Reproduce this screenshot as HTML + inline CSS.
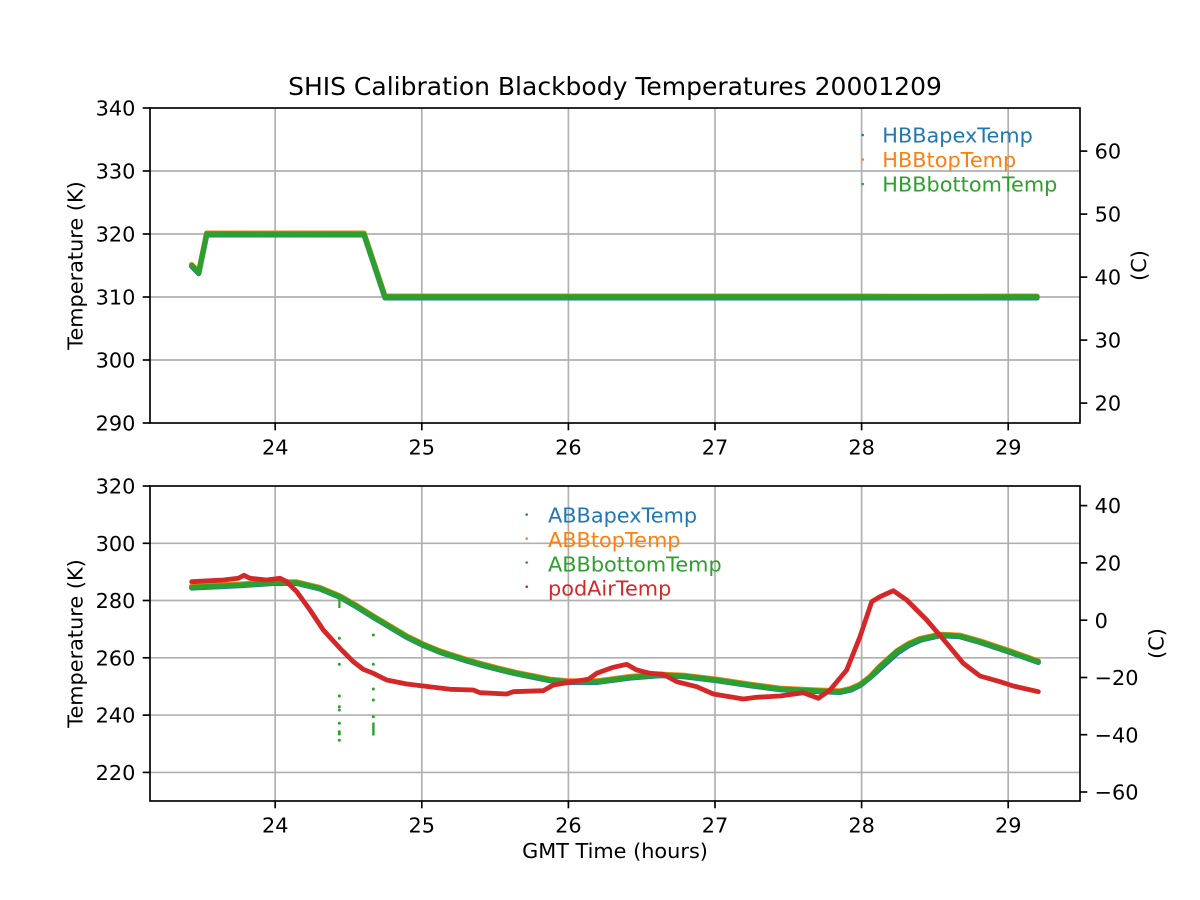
<!DOCTYPE html>
<html><head><meta charset="utf-8"><style>
html,body{margin:0;padding:0;background:#fff;}
svg{display:block;}
text{font-family:"DejaVu Sans","Liberation Sans",sans-serif;fill:#000;}
</style></head><body>
<svg width="1200" height="900" viewBox="0 0 1200 900" xmlns="http://www.w3.org/2000/svg">
<rect x="0" y="0" width="1200" height="900" fill="#fff"/>

<!-- ===== TOP AXES ===== -->
<g stroke="#b0b0b0" stroke-width="1.67" fill="none">
  <line x1="275.2" y1="108" x2="275.2" y2="423"/>
  <line x1="421.8" y1="108" x2="421.8" y2="423"/>
  <line x1="568.4" y1="108" x2="568.4" y2="423"/>
  <line x1="715" y1="108" x2="715" y2="423"/>
  <line x1="861.6" y1="108" x2="861.6" y2="423"/>
  <line x1="1008.2" y1="108" x2="1008.2" y2="423"/>
  <line x1="150" y1="360" x2="1080" y2="360"/>
  <line x1="150" y1="297" x2="1080" y2="297"/>
  <line x1="150" y1="234" x2="1080" y2="234"/>
  <line x1="150" y1="171" x2="1080" y2="171"/>
</g>
<g fill="none" stroke-width="5.4" stroke-linejoin="round" stroke-linecap="round">
  <polyline stroke="#1f77b4" points="191.7,266.3 198.7,273.5 206.7,234.8 364,234.8 385,297.8 1037,297.8"/>
  <polyline stroke="#ff7f0e" points="191.7,264.7 198.7,271.9 206.7,233.2 364,233.2 385,296.2 860,296.2 935,296.4 1037,296.2"/>
  <polyline stroke="#2ca02c" points="191.7,265.5 198.7,272.7 206.7,234 364,234.2 385,297 1037,297"/>
</g>
<!-- top legend -->
<circle cx="862.7" cy="135" r="1.3" fill="#1f77b4"/>
<circle cx="862.7" cy="159.5" r="1.3" fill="#ff7f0e"/>
<circle cx="862.7" cy="184" r="1.3" fill="#2ca02c"/>
<text x="882.3" y="142.5" font-size="20.83" style="fill:#1f77b4">HBBapexTemp</text>
<text x="882.3" y="167" font-size="20.83" style="fill:#ff7f0e">HBBtopTemp</text>
<text x="882.3" y="191.5" font-size="20.83" style="fill:#2ca02c">HBBbottomTemp</text>
<!-- top spines -->
<rect x="150" y="108" width="930" height="315" fill="none" stroke="#000" stroke-width="1.67"/>
<!-- top ticks -->
<g stroke="#000" stroke-width="1.67">
  <line x1="142.7" y1="423" x2="150" y2="423"/>
  <line x1="142.7" y1="360" x2="150" y2="360"/>
  <line x1="142.7" y1="297" x2="150" y2="297"/>
  <line x1="142.7" y1="234" x2="150" y2="234"/>
  <line x1="142.7" y1="171" x2="150" y2="171"/>
  <line x1="142.7" y1="108" x2="150" y2="108"/>
  <line x1="1080" y1="403.1" x2="1087.3" y2="403.1"/>
  <line x1="1080" y1="340.1" x2="1087.3" y2="340.1"/>
  <line x1="1080" y1="277.1" x2="1087.3" y2="277.1"/>
  <line x1="1080" y1="214.1" x2="1087.3" y2="214.1"/>
  <line x1="1080" y1="151.1" x2="1087.3" y2="151.1"/>
  <line x1="275.2" y1="423" x2="275.2" y2="430.3"/>
  <line x1="421.8" y1="423" x2="421.8" y2="430.3"/>
  <line x1="568.4" y1="423" x2="568.4" y2="430.3"/>
  <line x1="715" y1="423" x2="715" y2="430.3"/>
  <line x1="861.6" y1="423" x2="861.6" y2="430.3"/>
  <line x1="1008.2" y1="423" x2="1008.2" y2="430.3"/>
</g>
<g font-size="20.83" text-anchor="end">
  <text x="135.4" y="430.6">290</text>
  <text x="135.4" y="367.6">300</text>
  <text x="135.4" y="304.6">310</text>
  <text x="135.4" y="241.6">320</text>
  <text x="135.4" y="178.6">330</text>
  <text x="135.4" y="115.6">340</text>
</g>
<g font-size="20.83" text-anchor="start">
  <text x="1094.6" y="410.7">20</text>
  <text x="1094.6" y="347.7">30</text>
  <text x="1094.6" y="284.7">40</text>
  <text x="1094.6" y="221.7">50</text>
  <text x="1094.6" y="158.7">60</text>
</g>
<g font-size="20.83" text-anchor="middle">
  <text x="275.2" y="454.3">24</text>
  <text x="421.8" y="454.3">25</text>
  <text x="568.4" y="454.3">26</text>
  <text x="715" y="454.3">27</text>
  <text x="861.6" y="454.3">28</text>
  <text x="1008.2" y="454.3">29</text>
</g>
<text x="615" y="95" font-size="25" text-anchor="middle">SHIS Calibration Blackbody Temperatures 20001209</text>
<text transform="translate(82.5,265.5) rotate(-90)" font-size="20.83" text-anchor="middle">Temperature (K)</text>
<text transform="translate(1146,265.5) rotate(-90)" font-size="20.83" text-anchor="middle">(C)</text>

<!-- ===== BOTTOM AXES ===== -->
<g stroke="#b0b0b0" stroke-width="1.67" fill="none">
  <line x1="275.2" y1="486" x2="275.2" y2="801"/>
  <line x1="421.8" y1="486" x2="421.8" y2="801"/>
  <line x1="568.4" y1="486" x2="568.4" y2="801"/>
  <line x1="715" y1="486" x2="715" y2="801"/>
  <line x1="861.6" y1="486" x2="861.6" y2="801"/>
  <line x1="1008.2" y1="486" x2="1008.2" y2="801"/>
  <line x1="150" y1="772.4" x2="1080" y2="772.4"/>
  <line x1="150" y1="715.1" x2="1080" y2="715.1"/>
  <line x1="150" y1="657.8" x2="1080" y2="657.8"/>
  <line x1="150" y1="600.5" x2="1080" y2="600.5"/>
  <line x1="150" y1="543.3" x2="1080" y2="543.3"/>
</g>
<g fill="none" stroke-width="5.2" stroke-linejoin="round" stroke-linecap="round">
  <polyline stroke="#1f77b4" points="191.7,588 240,585.7 273.3,583.4 296.7,583.4 320,589 340,597.4 356.7,607 373.3,617.4 390,627.4 406.7,637.4 423.3,645.5 440,652.4 450,655.7 466.7,661 483.3,665.7 500,670 516.7,674 533.3,677.3 550,680.7 568.3,682.4 596.7,682.4 630,678 660,675.7 683.3,676.7 716.7,680.7 750,685.7 780,689.7 813.3,691.4 840,692.4 851,690 861,685 871,677 881,667.8 897.7,652.8 909,645.5 921,640 940,635.7 960,636.7 980,642.4 1010,652.4 1038.3,662.4"/>
  <polyline stroke="#ff7f0e" points="191.7,586 240,584.1 273.3,581.9 296.7,581.9 320,587.5 340,595.9 356.7,605.5 373.3,615.9 390,625.9 406.7,635.9 423.3,644 440,650.9 450,654.2 466.7,659.5 483.3,664.2 500,668.5 516.7,672.5 533.3,675.8 550,679.2 568.3,680.9 596.7,680.9 630,676.5 660,674.2 683.3,675.2 716.7,679.2 750,684.2 780,688.2 813.3,689.9 840,690.9 850,688.6 860,684.2 870,676.5 880,665.9 896.7,650.9 908,643.8 920,638.5 940,634.2 960,635.2 980,640.9 1010,650.9 1038.3,660.9"/>
  <polyline stroke="#2ca02c" points="191.7,587.3 240,585 273.3,582.7 296.7,582.7 320,588.3 340,596.7 356.7,606.3 373.3,616.7 390,626.7 406.7,636.7 423.3,644.8 440,651.7 450,655 466.7,660.3 483.3,665 500,669.3 516.7,673.3 533.3,676.6 550,680 568.3,681.7 596.7,681.7 630,677.3 660,675 683.3,676 716.7,680 750,685 780,689 813.3,690.7 840,691.7 850,689.4 860,685 870,677.3 880,666.7 896.7,651.7 908,644.6 920,639.3 940,635 960,636 980,641.7 1010,651.7 1038.3,661.7"/>
</g>
<!-- green outliers -->
<g fill="#2ca02c">
  <rect x="338.3" y="597" width="2.2" height="11"/>
  <circle cx="339.3" cy="638.3" r="1.5"/>
  <circle cx="339.3" cy="664.3" r="1.5"/>
  <circle cx="339.3" cy="696" r="1.5"/>
  <circle cx="339.3" cy="706.7" r="1.5"/>
  <circle cx="339.3" cy="710" r="1.5"/>
  <circle cx="339.3" cy="723.3" r="1.5"/>
  <circle cx="339.3" cy="731.7" r="1.5"/>
  <circle cx="339.3" cy="734" r="1.5"/>
  <circle cx="339.3" cy="740.3" r="1.5"/>
  <circle cx="373.3" cy="635" r="1.5"/>
  <circle cx="373.3" cy="664.3" r="1.5"/>
  <circle cx="373.3" cy="689" r="1.5"/>
  <circle cx="373.3" cy="700" r="1.5"/>
  <circle cx="373.3" cy="716.7" r="1.5"/>
  <rect x="372.2" y="722.5" width="2.4" height="13"/>
</g>
<polyline fill="none" stroke="#d62728" stroke-width="4.8" stroke-linejoin="round" stroke-linecap="round" points="191.7,581.7 223.3,580 238.3,578.3 244,575.3 250,578.3 266.7,580 280,578.3 286.7,581.7 296.7,591.7 310,610 323.3,630 340,648.3 353.3,661.7 363.3,669.3 373.3,673.3 386.7,680 406.7,684 423.3,686 450,689.3 473.3,690 480,692.7 506.7,694 513.3,691.7 543.3,690.7 553.3,685 566.7,682.7 588.3,679.3 596.7,673.3 613.3,667.3 626.7,664.3 636.7,670 650,673.3 663.3,674.3 676.7,681.7 696.7,686.7 713.3,694 743.3,699 756.7,697.3 780,696 803.3,692.7 818.3,698.3 830,690 846.7,670 860,636.7 871.7,601.7 880,596.7 893.3,590.7 906.7,600 926.7,620 946.7,643.3 963.3,663.3 980,676 1000,681.7 1013.3,686 1038.3,691.7"/>
<!-- bottom legend -->
<circle cx="526.7" cy="514.5" r="1.3" fill="#1f77b4"/>
<circle cx="526.7" cy="538.5" r="1.3" fill="#ff7f0e"/>
<circle cx="526.7" cy="562.5" r="1.3" fill="#2ca02c"/>
<circle cx="526.7" cy="586.7" r="1.3" fill="#d62728"/>
<text x="548" y="522.5" font-size="20.83" style="fill:#1f77b4">ABBapexTemp</text>
<text x="548" y="546.9" font-size="20.83" style="fill:#ff7f0e">ABBtopTemp</text>
<text x="548" y="571.3" font-size="20.83" style="fill:#2ca02c">ABBbottomTemp</text>
<text x="548" y="595.7" font-size="20.83" style="fill:#d62728">podAirTemp</text>
<!-- bottom spines -->
<rect x="150" y="486" width="930" height="315" fill="none" stroke="#000" stroke-width="1.67"/>
<g stroke="#000" stroke-width="1.67">
  <line x1="142.7" y1="772.4" x2="150" y2="772.4"/>
  <line x1="142.7" y1="715.1" x2="150" y2="715.1"/>
  <line x1="142.7" y1="657.8" x2="150" y2="657.8"/>
  <line x1="142.7" y1="600.5" x2="150" y2="600.5"/>
  <line x1="142.7" y1="543.3" x2="150" y2="543.3"/>
  <line x1="142.7" y1="486" x2="150" y2="486"/>
  <line x1="1080" y1="505.6" x2="1087.3" y2="505.6"/>
  <line x1="1080" y1="562.9" x2="1087.3" y2="562.9"/>
  <line x1="1080" y1="620.2" x2="1087.3" y2="620.2"/>
  <line x1="1080" y1="677.5" x2="1087.3" y2="677.5"/>
  <line x1="1080" y1="734.7" x2="1087.3" y2="734.7"/>
  <line x1="1080" y1="792" x2="1087.3" y2="792"/>
  <line x1="275.2" y1="801" x2="275.2" y2="808.3"/>
  <line x1="421.8" y1="801" x2="421.8" y2="808.3"/>
  <line x1="568.4" y1="801" x2="568.4" y2="808.3"/>
  <line x1="715" y1="801" x2="715" y2="808.3"/>
  <line x1="861.6" y1="801" x2="861.6" y2="808.3"/>
  <line x1="1008.2" y1="801" x2="1008.2" y2="808.3"/>
</g>
<g font-size="20.83" text-anchor="end">
  <text x="135.4" y="780">220</text>
  <text x="135.4" y="722.7">240</text>
  <text x="135.4" y="665.4">260</text>
  <text x="135.4" y="608.1">280</text>
  <text x="135.4" y="550.9">300</text>
  <text x="135.4" y="493.6">320</text>
</g>
<g font-size="20.83" text-anchor="start">
  <text x="1094.6" y="513.2">40</text>
  <text x="1094.6" y="570.5">20</text>
  <text x="1094.6" y="627.8">0</text>
  <text x="1094.6" y="685.1">−20</text>
  <text x="1094.6" y="742.3">−40</text>
  <text x="1094.6" y="799.6">−60</text>
</g>
<g font-size="20.83" text-anchor="middle">
  <text x="275.2" y="832.3">24</text>
  <text x="421.8" y="832.3">25</text>
  <text x="568.4" y="832.3">26</text>
  <text x="715" y="832.3">27</text>
  <text x="861.6" y="832.3">28</text>
  <text x="1008.2" y="832.3">29</text>
</g>
<text x="615" y="858" font-size="20.83" text-anchor="middle">GMT Time (hours)</text>
<text transform="translate(82.5,643.5) rotate(-90)" font-size="20.83" text-anchor="middle">Temperature (K)</text>
<text transform="translate(1163.5,643.5) rotate(-90)" font-size="20.83" text-anchor="middle">(C)</text>
</svg>
</body></html>
